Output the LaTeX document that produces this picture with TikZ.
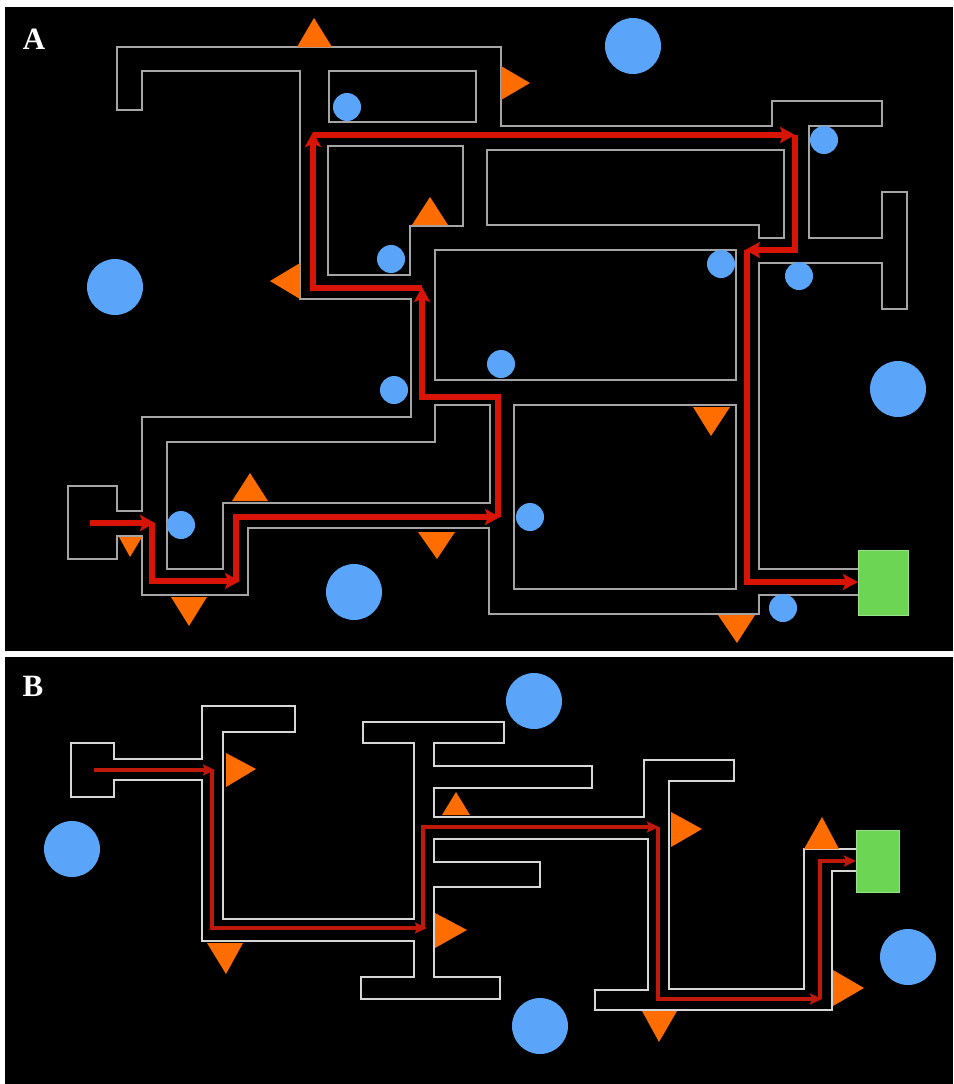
\documentclass[tikz,border=0pt]{standalone}
\usepackage{fontspec}
\setmainfont{Liberation Serif}
\usetikzlibrary{arrows.meta}
\definecolor{wallA}{RGB}{165,165,165}
\definecolor{wallB}{RGB}{215,215,215}
\definecolor{pathA}{RGB}{215,20,5}
\definecolor{pathB}{RGB}{190,25,10}
\definecolor{tri}{RGB}{255,108,0}
\definecolor{blob}{RGB}{90,165,250}
\definecolor{goal}{RGB}{108,214,84}
\tikzset{
  wallsA/.style={draw=wallA,line width=2.6pt,line join=miter},
  wallsB/.style={draw=wallB,line width=2.4pt,line join=miter},
  routeA/.style={draw=pathA,line width=5.2pt,line join=miter,-{Stealth[length=15pt,width=16pt,inset=3pt]}},
  routeB/.style={draw=pathB,line width=3.6pt,line join=miter,-{Stealth[length=12pt,width=11pt,inset=2pt]}},
  marker/.style={fill=tri},
  bigdot/.style={fill=blob},
  goalbox/.style={fill=goal,draw=goal!70!white,line width=1pt},
  panellabel/.style={text=white,font=\fontsize{31}{31}\selectfont\bfseries,inner sep=0pt}
}
\begin{document}
\begin{tikzpicture}[x=1pt,y=-1pt]
\useasboundingbox (0,0) rectangle (953,1084);
\fill[white] (0,0) rectangle (953,1084);
\fill[black] (5,7) rectangle (953,651);
\fill[black] (5,657) rectangle (953,1084);
\node[panellabel] (labA) at (34,39) {A};
\node[panellabel] (labB) at (33,686) {B};

% ---------- Panel A walls ----------
\draw[wallsA] (858,595)--(759,595)--(759,614)--(489,614)--(489,528)--(248,528)--(248,595)--(142,595)--(142,536)--(117,536)--(117,559)--(68,559)--(68,486)--(117,486)--(117,511)--(142,511)--(142,417)--(411,417)--(411,299)--(300,299)--(300,71)--(142,71)--(142,110)--(117,110)--(117,47)--(501,47)--(501,126)--(772,126)--(772,101)--(882,101)--(882,126)--(809,126)--(809,238)--(882,238)--(882,192)--(907,192)--(907,309)--(882,309)--(882,263)--(759,263)--(759,569)--(858,569);
\draw[wallsA] (329,71) rectangle (476,122);
\draw[wallsA] (328,146)--(463,146)--(463,226)--(410,226)--(410,275)--(328,275)--cycle;
\draw[wallsA] (487,150)--(784,150)--(784,238)--(759,238)--(759,225)--(487,225)--cycle;
\draw[wallsA] (435,250) rectangle (736,380);
\draw[wallsA] (514,405) rectangle (736,589);
\draw[wallsA] (167,569)--(167,442)--(435,442)--(435,405)--(490,405)--(490,503)--(223,503)--(223,569)--cycle;

% ---------- Panel A dots ----------
\fill[bigdot] (347,107) circle (14);
\fill[bigdot] (633,46) circle (28);
\fill[bigdot] (115,287) circle (28);
\fill[bigdot] (391,259) circle (14);
\fill[bigdot] (824,140) circle (14);
\fill[bigdot] (721,264) circle (14);
\fill[bigdot] (799,276) circle (14);
\fill[bigdot] (501,364) circle (14);
\fill[bigdot] (394,390) circle (14);
\fill[bigdot] (898,389) circle (28);
\fill[bigdot] (530,517) circle (14);
\fill[bigdot] (181,525) circle (14);
\fill[bigdot] (354,592) circle (28);
\fill[bigdot] (783,608) circle (14);

% ---------- Panel A triangles ----------
\fill[marker] (297,47)--(332,47)--(314,18)--cycle;
\fill[marker] (501,66)--(501,100)--(530,83)--cycle;
\fill[marker] (300,263)--(300,299)--(270,281)--cycle;
\fill[marker] (412,225)--(448,225)--(430,197)--cycle;
\fill[marker] (232,501)--(268,501)--(250,473)--cycle;
\fill[marker] (119,537)--(142,537)--(130,557)--cycle;
\fill[marker] (171,597)--(207,597)--(189,626)--cycle;
\fill[marker] (418,532)--(455,532)--(437,559)--cycle;
\fill[marker] (693,407)--(730,407)--(711,436)--cycle;
\fill[marker] (718,615)--(755,615)--(737,643)--cycle;

% ---------- Panel A goal ----------
\node[goalbox,minimum width=50pt,minimum height=65pt,inner sep=0pt,anchor=north west] (goalA) at (858,550) {};

% ---------- Panel A route ----------
\draw[routeA] (90,523)--(155,523);
\draw[routeA] (152,523)--(152,581)--(240,581);
\draw[routeA] (236,581)--(236,517)--(500,517);
\draw[routeA] (498,517)--(498,397)--(422,397)--(422,287);
\draw[routeA] (422,288)--(313,288)--(313,132);
\draw[routeA] (313,135)--(795,135);
\draw[routeA] (795,135)--(795,250)--(745,250);
\draw[routeA] (747,250)--(747,582)--(goalA.west|-0,582);

% ---------- Panel B walls ----------
\draw[wallsB] (856,849)--(804,849)--(804,989)--(669,989)--(669,781)--(734,781)--(734,760)--(644,760)--(644,817)--(434,817)--(434,788)--(592,788)--(592,766)--(434,766)--(434,743)--(504,743)--(504,722)--(363,722)--(363,743)--(414,743)--(414,919)--(223,919)--(223,732)--(295,732)--(295,706)--(202,706)--(202,759)--(114,759)--(114,743)--(71,743)--(71,797)--(114,797)--(114,780)--(202,780)--(202,941)--(414,941)--(414,977)--(361,977)--(361,999)--(500,999)--(500,977)--(434,977)--(434,887)--(540,887)--(540,862)--(434,862)--(434,839)--(648,839)--(648,990)--(595,990)--(595,1010)--(832,1010)--(832,871)--(856,871);

% ---------- Panel B dots ----------
\fill[bigdot] (534,701) circle (28);
\fill[bigdot] (72,849) circle (28);
\fill[bigdot] (540,1026) circle (28);
\fill[bigdot] (908,957) circle (28);

% ---------- Panel B triangles ----------
\fill[marker] (226,753)--(226,787)--(256,769)--cycle;
\fill[marker] (207,943)--(243,943)--(226,974)--cycle;
\fill[marker] (442,815)--(470,815)--(456,792)--cycle;
\fill[marker] (435,913)--(435,948)--(467,930)--cycle;
\fill[marker] (671,812)--(671,847)--(702,829)--cycle;
\fill[marker] (804,849)--(839,849)--(822,817)--cycle;
\fill[marker] (833,970)--(833,1006)--(864,988)--cycle;
\fill[marker] (642,1011)--(677,1011)--(659,1042)--cycle;

% ---------- Panel B goal ----------
\node[goalbox,minimum width=43pt,minimum height=62pt,inner sep=0pt,anchor=north west] (goalB) at (856,830) {};

% ---------- Panel B route ----------
\draw[routeB] (94,770)--(215,770);
\draw[routeB] (212,770)--(212,928)--(427,928);
\draw[routeB] (423,928)--(423,827)--(659,827);
\draw[routeB] (658,827)--(658,999)--(822,999);
\draw[routeB] (820,999)--(820,861)--(goalB.west|-0,861);
\end{tikzpicture}
\end{document}
